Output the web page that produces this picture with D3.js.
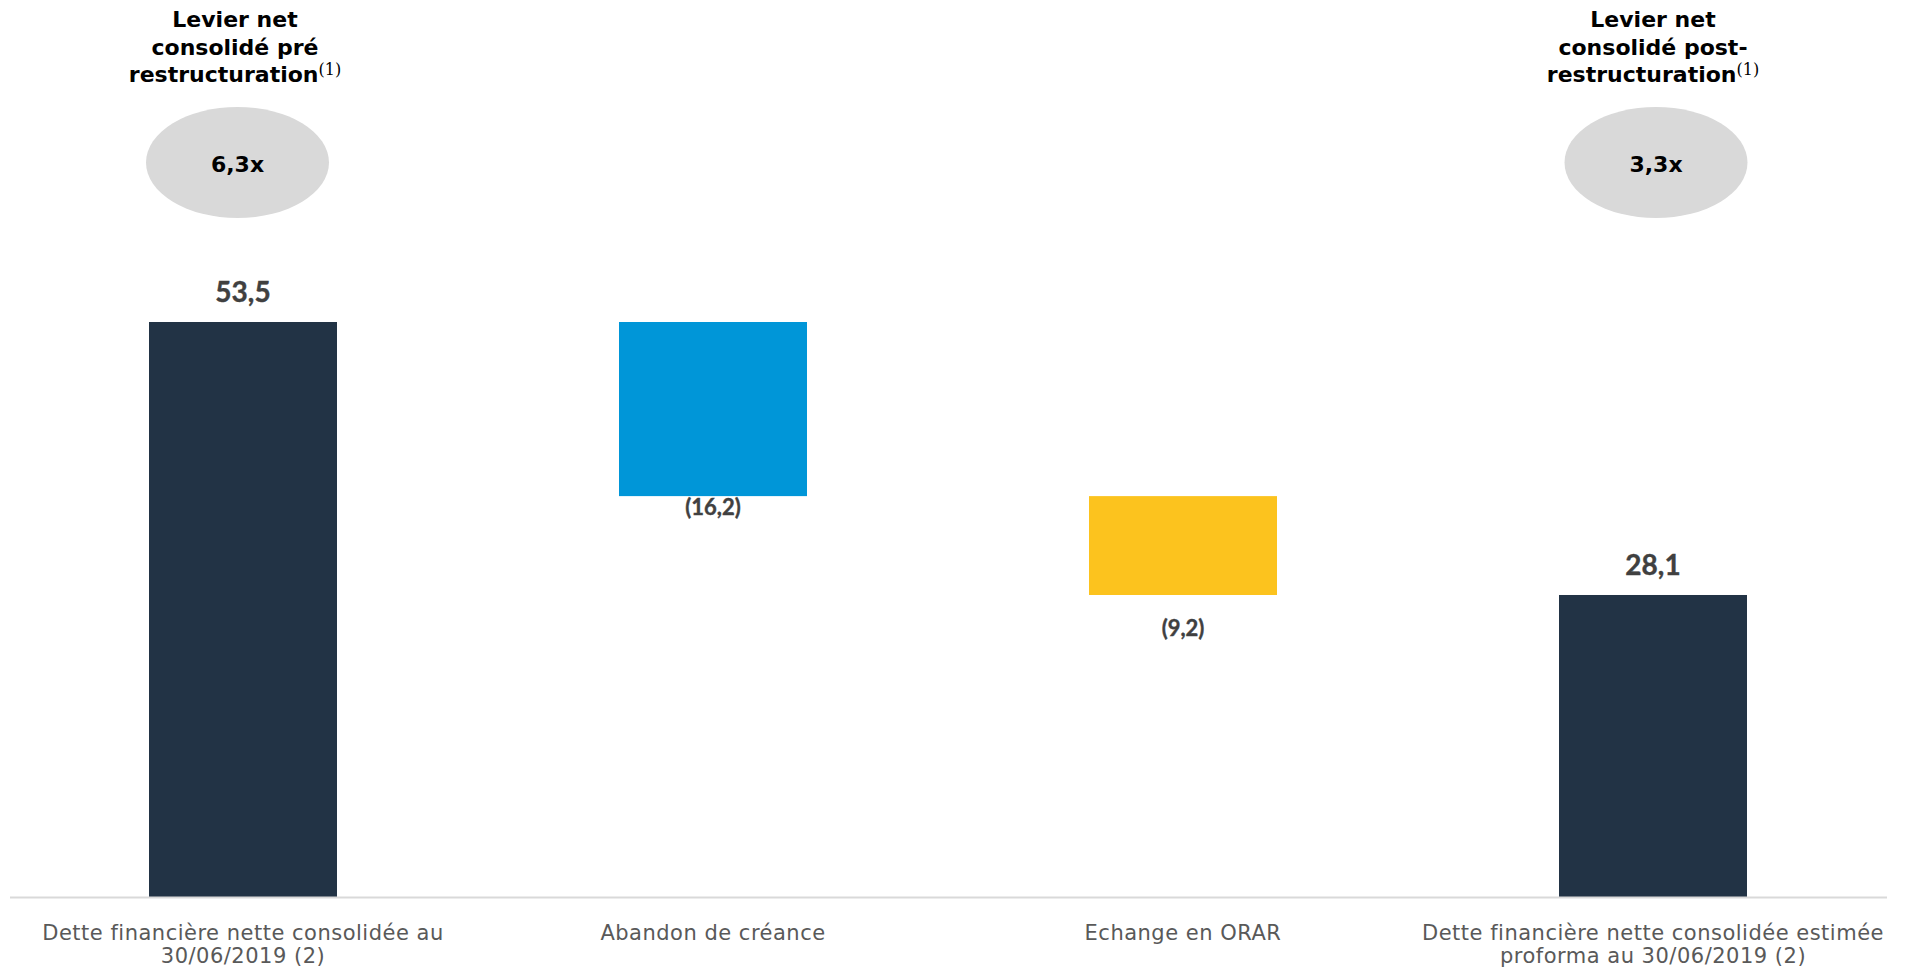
<!DOCTYPE html>
<html><head><meta charset="utf-8">
<script src="https://cdn.jsdelivr.net/npm/d3@7"></script>
<style>html,body{margin:0;padding:0;background:#fff;}svg{display:block;}</style>
</head><body>
<svg id="chart" width="1906" height="970"></svg>
<script>
// ---- data ----
const categories = ["Dette financière nette consolidée au 30/06/2019 (2)", "Abandon de créance", "Echange en ORAR", "Dette financière nette consolidée estimée proforma au 30/06/2019 (2)"];
const categoryLines = [["Dette financière nette consolidée au", "30/06/2019 (2)"], ["Abandon de créance"], ["Echange en ORAR"], ["Dette financière nette consolidée estimée", "proforma au 30/06/2019 (2)"]];
const values = [53.5, -16.2, -9.2, 28.1];
const barTypes = ["total", "delta", "delta", "total"];
const leverageTitles = [["Levier net", "consolidé pré", "restructuration"], ["Levier net", "consolidé post-", "restructuration"]];
const leverageValues = ["6,3x", "3,3x"];
const leverageAt = [0, 3];

// ---- layout ----
const W = 1906, H = 970;
const colors = {total: "#223345", delta: ["#0096d8", "#fcc31e"]};
const titleShift = [-8, 0];
const ellipseShift = [-5.5, 3];
const svg = d3.select("#chart");

const x = d3.scaleBand().domain(categories).range([8, 1888]).paddingInner(0.6).paddingOuter(0.3);
const y = d3.scaleLinear().domain([0, 53.5]).range([897, 322]);

// waterfall
let running = 0;
const bars = values.map((v, i) => {
  let y0, y1;
  if (barTypes[i] === "total") { y0 = 0; y1 = v; running = v; }
  else { y0 = running + v; y1 = running; running = running + v; }
  return {cat: categories[i], v, y0, y1, type: barTypes[i], i};
});

let di = 0;
svg.selectAll("rect.bar").data(bars).join("rect")
  .attr("class", "bar")
  .attr("x", d => x(d.cat))
  .attr("width", x.bandwidth())
  .attr("y", d => y(d.y1))
  .attr("height", d => y(d.y0) - y(d.y1))
  .attr("fill", d => d.type === "total" ? colors.total : colors.delta[di++]);

// axis baseline
svg.append("line").attr("x1", 10).attr("x2", 1887).attr("y1", y(0) + 0.5).attr("y2", y(0) + 0.5)
  .attr("stroke", "#d9d9d9").attr("stroke-width", 2);

// value labels
const loc = d3.formatLocale({decimal: ",", thousands: " ", grouping: [3], currency: ["", ""]});
const fmt = loc.format(".1f");
const deltaGap = [0, 19, 41, 0];
svg.selectAll("text.val").data(bars).join("text")
  .attr("class", "val")
  .attr("x", d => x(d.cat) + x.bandwidth() / 2)
  .attr("y", d => d.type === "total" ? y(d.y1) - 20 : y(d.y0) + deltaGap[d.i])
  .attr("text-anchor", "middle")
  .attr("font-family", "Lato, 'Open Sans', sans-serif")
  .attr("font-weight", 700)
  .attr("font-size", d => d.type === "total" ? 28 : 22)
  .attr("fill", "#404040")
  .attr("stroke", "#404040").attr("stroke-width", 0.4)
  .text(d => d.v < 0 ? "(" + fmt(-d.v) + ")" : fmt(d.v));

// category labels
const cl = svg.selectAll("text.cat").data(categories).join("text")
  .attr("class", "cat")
  .attr("text-anchor", "middle")
  .attr("font-family", "'DejaVu Sans', Verdana, sans-serif")
  .attr("font-size", 21)
  .attr("letter-spacing", 0.5)
  .attr("fill", "#595959");
cl.each(function(d, i) {
  const t = d3.select(this);
  categoryLines[i].forEach((line, j) => {
    t.append("tspan").attr("x", x(d) + x.bandwidth() / 2).attr("y", 940 + j * 23).text(line);
  });
});

// leverage annotations
leverageAt.forEach((ci, k) => {
  const cx = x(categories[ci]) + x.bandwidth() / 2;
  const tx = cx + titleShift[k];
  const ex = cx + ellipseShift[k];
  const g = svg.append("g");
  const t = g.append("text").attr("text-anchor", "middle")
    .attr("font-family", "'DejaVu Sans', Verdana, sans-serif")
    .attr("font-weight", 700).attr("font-size", 22).attr("fill", "#000");
  leverageTitles[k].forEach((line, j) => {
    t.append("tspan").attr("x", tx).attr("y", 27 + j * 27.5).text(line);
    if (j === 2) {
      t.append("tspan").attr("dy", -7).attr("font-family", "'DejaVu Serif', 'Liberation Serif', serif")
        .attr("font-weight", 400).attr("font-size", 16).text("(1)");
    }
  });
  g.append("ellipse").attr("cx", ex).attr("cy", 162.5).attr("rx", 91.5).attr("ry", 55.5).attr("fill", "#d9d9d9");
  g.append("text").attr("x", ex).attr("y", 172).attr("text-anchor", "middle")
    .attr("font-family", "'DejaVu Sans', Verdana, sans-serif")
    .attr("font-weight", 700).attr("font-size", 22).attr("fill", "#000")
    .text(leverageValues[k]);
});
</script>
</body></html>
